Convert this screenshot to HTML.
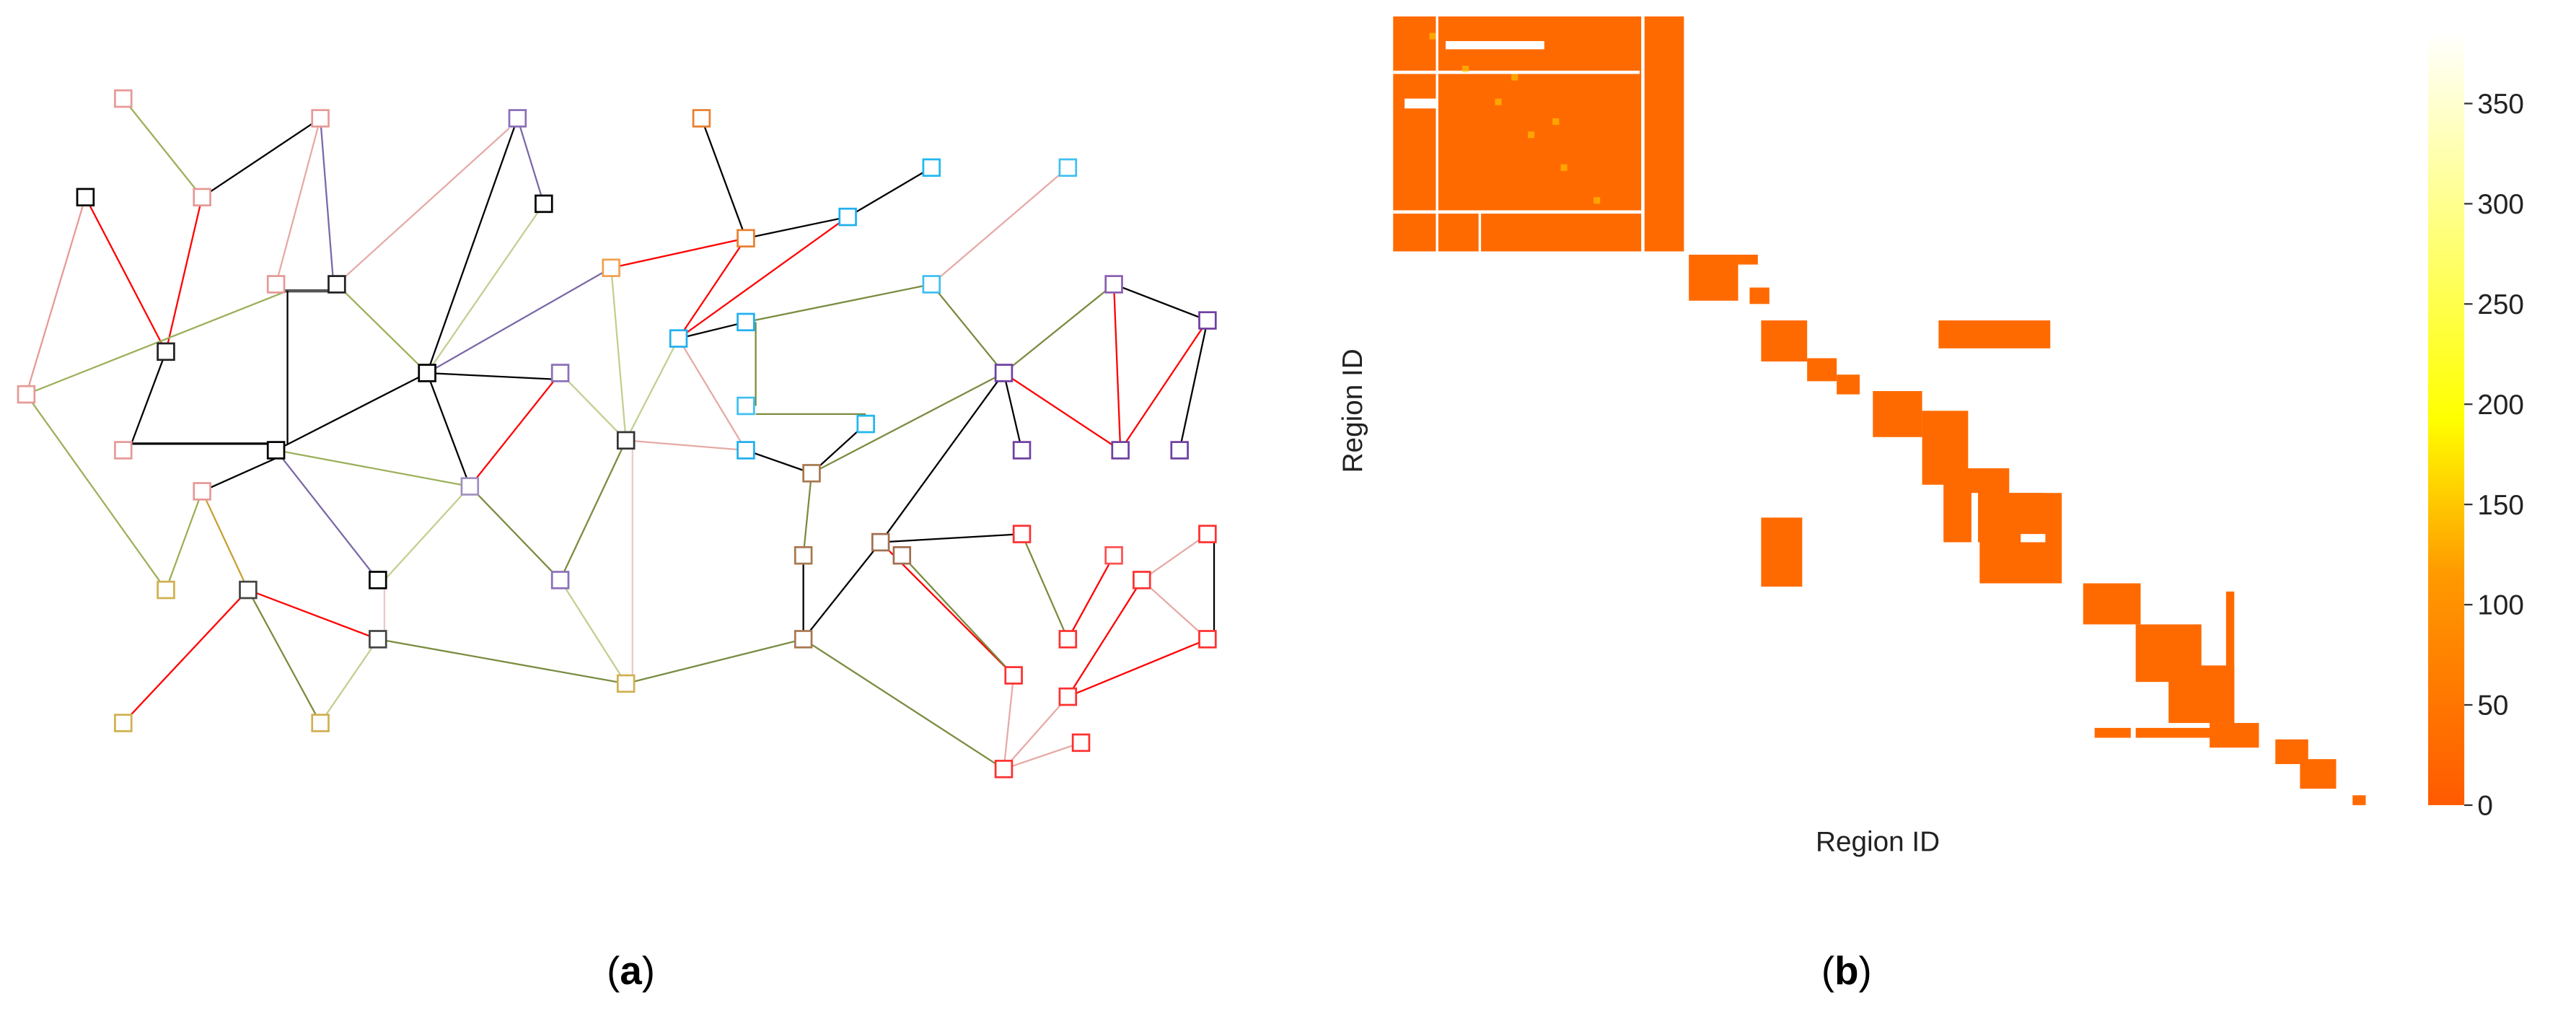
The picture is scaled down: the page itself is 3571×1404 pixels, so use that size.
<!DOCTYPE html>
<html><head><meta charset="utf-8"><style>
html,body{margin:0;padding:0;background:#fff}
svg{display:block}
text{font-family:"Liberation Sans",sans-serif}
</style></head><body>
<svg width="3571" height="1404" viewBox="0 0 1568 616.5" preserveAspectRatio="none" xmlns="http://www.w3.org/2000/svg">
<defs>
<linearGradient id="cb" x1="0" y1="1" x2="0" y2="0">
<stop offset="0" stop-color="#ff5a00"/>
<stop offset="0.3" stop-color="#ff9a00"/>
<stop offset="0.5" stop-color="#ffff00"/>
<stop offset="0.75" stop-color="#ffff80"/>
<stop offset="1" stop-color="#ffffff"/>
</linearGradient>
</defs>
<g fill="none" stroke-width="1">
<!-- edges -->
<line x1="75" y1="60" x2="123" y2="120" stroke="#9cb05a"/>
<line x1="123" y1="120" x2="195" y2="72" stroke="#000"/>
<line x1="195" y1="72" x2="168" y2="173" stroke="#e6aaa6"/>
<line x1="195" y1="72" x2="203" y2="173" stroke="#7b68a8"/>
<line x1="123" y1="120" x2="101" y2="214" stroke="#ff0000"/>
<line x1="52" y1="120" x2="101" y2="214" stroke="#ff0000"/>
<line x1="52" y1="120" x2="16" y2="240" stroke="#e69a96"/>
<line x1="16" y1="240" x2="175" y2="177" stroke="#9cb05a"/>
<line x1="170" y1="177" x2="205" y2="177" stroke="#555" stroke-width="2"/>
<line x1="175" y1="177" x2="175" y2="270" stroke="#000"/>
<line x1="101" y1="214" x2="80" y2="270" stroke="#000"/>
<line x1="80" y1="270" x2="168" y2="270" stroke="#000" stroke-width="1.4"/>
<line x1="16" y1="240" x2="101" y2="359" stroke="#9cb05a"/>
<line x1="101" y1="359" x2="123" y2="299" stroke="#9cb05a"/>
<line x1="123" y1="299" x2="170" y2="278" stroke="#000"/>
<line x1="123" y1="299" x2="151" y2="359" stroke="#c8a030"/>
<line x1="168" y1="274" x2="260" y2="227" stroke="#000"/>
<line x1="168" y1="274" x2="230" y2="353" stroke="#7b68a8"/>
<line x1="168" y1="274" x2="286" y2="296" stroke="#9cb05a"/>
<line x1="205" y1="173" x2="260" y2="227" stroke="#9cb05a"/>
<line x1="205" y1="173" x2="310" y2="78" stroke="#e6aaa6"/>
<line x1="315" y1="72" x2="260" y2="227" stroke="#000"/>
<line x1="315" y1="72" x2="331" y2="124" stroke="#7b68a8"/>
<line x1="331" y1="124" x2="260" y2="227" stroke="#c0d090"/>
<line x1="260" y1="227" x2="372" y2="163" stroke="#7b68a8"/>
<line x1="260" y1="227" x2="341" y2="231" stroke="#000"/>
<line x1="260" y1="227" x2="286" y2="296" stroke="#000"/>
<line x1="341" y1="227" x2="286" y2="296" stroke="#ff0000"/>
<line x1="341" y1="227" x2="381" y2="268" stroke="#c0d090"/>
<line x1="372" y1="163" x2="381" y2="268" stroke="#c0d090"/>
<line x1="286" y1="296" x2="341" y2="353" stroke="#7a8c40"/>
<line x1="286" y1="296" x2="234" y2="353" stroke="#c0d090"/>
<line x1="341" y1="353" x2="381" y2="416" stroke="#c0d090"/>
<line x1="381" y1="268" x2="341" y2="353" stroke="#7a8c40"/>
<line x1="385" y1="268" x2="385" y2="416" stroke="#ecc8c8"/>
<line x1="381" y1="268" x2="454" y2="274" stroke="#e6aaa6"/>
<line x1="381" y1="268" x2="413" y2="206" stroke="#c0d090"/>
<line x1="413" y1="206" x2="454" y2="145" stroke="#ff0000"/>
<line x1="413" y1="206" x2="516" y2="132" stroke="#ff0000"/>
<line x1="454" y1="145" x2="372" y2="163" stroke="#ff0000"/>
<line x1="454" y1="145" x2="427" y2="72" stroke="#000"/>
<line x1="454" y1="145" x2="516" y2="132" stroke="#000"/>
<line x1="516" y1="132" x2="567" y2="102" stroke="#000"/>
<line x1="650" y1="102" x2="567" y2="173" stroke="#e6aaa6"/>
<line x1="413" y1="206" x2="454" y2="196" stroke="#000"/>
<line x1="413" y1="206" x2="454" y2="274" stroke="#e6aaa6"/>
<line x1="454" y1="196" x2="567" y2="173" stroke="#7a8c40"/>
<line x1="460" y1="196" x2="460" y2="247" stroke="#7a8c40"/>
<line x1="460" y1="252" x2="527" y2="252" stroke="#7a8c40"/>
<line x1="527" y1="258" x2="494" y2="288" stroke="#000"/>
<line x1="454" y1="274" x2="494" y2="288" stroke="#000"/>
<line x1="567" y1="173" x2="611" y2="227" stroke="#7a8c40"/>
<line x1="611" y1="227" x2="678" y2="173" stroke="#7a8c40"/>
<line x1="678" y1="173" x2="735" y2="195" stroke="#000"/>
<line x1="678" y1="173" x2="682" y2="274" stroke="#ff0000"/>
<line x1="735" y1="195" x2="682" y2="274" stroke="#ff0000"/>
<line x1="735" y1="195" x2="718" y2="274" stroke="#000"/>
<line x1="611" y1="227" x2="622" y2="274" stroke="#000"/>
<line x1="611" y1="227" x2="682" y2="274" stroke="#ff0000"/>
<line x1="611" y1="227" x2="494" y2="288" stroke="#7a8c40"/>
<line x1="611" y1="227" x2="536" y2="330" stroke="#000"/>
<line x1="536" y1="330" x2="489" y2="389" stroke="#000"/>
<line x1="494" y1="288" x2="489" y2="338" stroke="#7a8c40"/>
<line x1="489" y1="338" x2="489" y2="389" stroke="#000"/>
<line x1="536" y1="330" x2="622" y2="325" stroke="#000"/>
<line x1="536" y1="330" x2="617" y2="411" stroke="#ff0000"/>
<line x1="549" y1="338" x2="617" y2="411" stroke="#7a8c40"/>
<line x1="622" y1="325" x2="650" y2="389" stroke="#7a8c40"/>
<line x1="678" y1="338" x2="650" y2="389" stroke="#ff0000"/>
<line x1="739" y1="325" x2="739" y2="389" stroke="#000"/>
<line x1="735" y1="325" x2="695" y2="353" stroke="#e6aaa6"/>
<line x1="695" y1="353" x2="735" y2="389" stroke="#e6aaa6"/>
<line x1="695" y1="353" x2="650" y2="424" stroke="#ff0000"/>
<line x1="735" y1="389" x2="650" y2="424" stroke="#ff0000"/>
<line x1="650" y1="424" x2="611" y2="468" stroke="#e6aaa6"/>
<line x1="611" y1="468" x2="658" y2="452" stroke="#e6aaa6"/>
<line x1="617" y1="411" x2="611" y2="468" stroke="#e6aaa6"/>
<line x1="489" y1="389" x2="611" y2="468" stroke="#7a8c40"/>
<line x1="489" y1="389" x2="381" y2="416" stroke="#7a8c40"/>
<line x1="230" y1="389" x2="381" y2="416" stroke="#7a8c40"/>
<line x1="151" y1="359" x2="230" y2="389" stroke="#ff0000"/>
<line x1="151" y1="359" x2="75" y2="440" stroke="#ff0000"/>
<line x1="151" y1="359" x2="195" y2="440" stroke="#7a8c40"/>
<line x1="230" y1="389" x2="195" y2="440" stroke="#c0d090"/>
<line x1="234" y1="353" x2="234" y2="389" stroke="#ecc8c8"/>
</g>
<g fill="#fff" stroke-width="1.2">
<rect x="70" y="55" width="10" height="10" stroke="#e69a96"/>
<rect x="190" y="67" width="10" height="10" stroke="#e69a96"/>
<rect x="310" y="67" width="10" height="10" stroke="#8a70b8"/>
<rect x="422" y="67" width="10" height="10" stroke="#e88030"/>
<rect x="47" y="115" width="10" height="10" stroke="#000"/>
<rect x="118" y="115" width="10" height="10" stroke="#e69a96"/>
<rect x="326" y="119" width="10" height="10" stroke="#000"/>
<rect x="562" y="97" width="10" height="10" stroke="#20b8f0"/>
<rect x="645" y="97" width="10" height="10" stroke="#40c0f0"/>
<rect x="511" y="127" width="10" height="10" stroke="#20b0f0"/>
<rect x="449" y="140" width="10" height="10" stroke="#e88030"/>
<rect x="367" y="158" width="10" height="10" stroke="#f0a050"/>
<rect x="163" y="168" width="10" height="10" stroke="#e69a96"/>
<rect x="200" y="168" width="10" height="10" stroke="#222"/>
<rect x="562" y="168" width="10" height="10" stroke="#40c0f0"/>
<rect x="673" y="168" width="10" height="10" stroke="#8a60b0"/>
<rect x="730" y="190" width="10" height="10" stroke="#7040a0"/>
<rect x="11" y="235" width="10" height="10" stroke="#e69a96"/>
<rect x="96" y="209" width="10" height="10" stroke="#222"/>
<rect x="408" y="201" width="10" height="10" stroke="#20b0f0"/>
<rect x="449" y="191" width="10" height="10" stroke="#20b0f0"/>
<rect x="255" y="222" width="10" height="10" stroke="#000"/>
<rect x="336" y="222" width="10" height="10" stroke="#8a70b8"/>
<rect x="606" y="222" width="10" height="10" stroke="#7040a0"/>
<rect x="449" y="242" width="10" height="10" stroke="#40c0f0"/>
<rect x="522" y="253" width="10" height="10" stroke="#20b8f0"/>
<rect x="70" y="269" width="10" height="10" stroke="#e69a96"/>
<rect x="163" y="269" width="10" height="10" stroke="#000"/>
<rect x="376" y="263" width="10" height="10" stroke="#333"/>
<rect x="449" y="269" width="10" height="10" stroke="#20b0f0"/>
<rect x="617" y="269" width="10" height="10" stroke="#7040a0"/>
<rect x="677" y="269" width="10" height="10" stroke="#7040a0"/>
<rect x="713" y="269" width="10" height="10" stroke="#7040a0"/>
<rect x="489" y="283" width="10" height="10" stroke="#a87850"/>
<rect x="118" y="294" width="10" height="10" stroke="#e69a96"/>
<rect x="281" y="291" width="10" height="10" stroke="#a090c0"/>
<rect x="531" y="325" width="10" height="10" stroke="#a07050"/>
<rect x="544" y="333" width="10" height="10" stroke="#a07050"/>
<rect x="617" y="320" width="10" height="10" stroke="#ff3030"/>
<rect x="673" y="333" width="10" height="10" stroke="#ff5050"/>
<rect x="730" y="320" width="10" height="10" stroke="#ff3030"/>
<rect x="484" y="333" width="10" height="10" stroke="#a87850"/>
<rect x="96" y="354" width="10" height="10" stroke="#d0b050"/>
<rect x="146" y="354" width="10" height="10" stroke="#444"/>
<rect x="225" y="348" width="10" height="10" stroke="#000"/>
<rect x="336" y="348" width="10" height="10" stroke="#8a70b8"/>
<rect x="690" y="348" width="10" height="10" stroke="#ff3030"/>
<rect x="225" y="384" width="10" height="10" stroke="#444"/>
<rect x="484" y="384" width="10" height="10" stroke="#a87850"/>
<rect x="645" y="384" width="10" height="10" stroke="#ff3030"/>
<rect x="730" y="384" width="10" height="10" stroke="#ff3030"/>
<rect x="376" y="411" width="10" height="10" stroke="#d0b050"/>
<rect x="612" y="406" width="10" height="10" stroke="#ff3030"/>
<rect x="645" y="419" width="10" height="10" stroke="#ff3030"/>
<rect x="70" y="435" width="10" height="10" stroke="#d0b050"/>
<rect x="190" y="435" width="10" height="10" stroke="#d0b050"/>
<rect x="653" y="447" width="10" height="10" stroke="#ff3030"/>
<rect x="606" y="463" width="10" height="10" stroke="#ff3030"/>
</g>
<!-- heatmap -->
<g fill="#ff6a00">
<rect x="848" y="10" width="177" height="143"/>
<rect x="1028" y="155" width="30" height="28"/>
<rect x="1058" y="155" width="12" height="6"/>
<rect x="1065" y="175" width="12" height="10"/>
<rect x="1072" y="195" width="28" height="25"/>
<rect x="1100" y="218" width="18" height="14"/>
<rect x="1118" y="228" width="14" height="12"/>
<rect x="1180" y="195" width="68" height="17"/>
<rect x="1140" y="238" width="30" height="28"/>
<rect x="1170" y="250" width="28" height="45"/>
<rect x="1183" y="285" width="40" height="45"/>
<rect x="1205" y="300" width="50" height="55"/>
<rect x="1223" y="300" width="20" height="20"/>
<rect x="1072" y="315" width="25" height="42"/>
<rect x="1268" y="355" width="35" height="25"/>
<rect x="1300" y="380" width="40" height="35"/>
<rect x="1320" y="405" width="40" height="35"/>
<rect x="1275" y="373" width="18" height="5"/>
<rect x="1275" y="443" width="22" height="6"/>
<rect x="1300" y="443" width="60" height="6"/>
<rect x="1355" y="360" width="5" height="85"/>
<rect x="1345" y="440" width="30" height="15"/>
<rect x="1385" y="450" width="20" height="15"/>
<rect x="1400" y="462" width="22" height="18"/>
<rect x="1432" y="484" width="8" height="6"/>
</g>
<g fill="#fff">
<rect x="999" y="10" width="2" height="143"/>
<rect x="848" y="128" width="153" height="2"/>
<rect x="848" y="43" width="150" height="2"/>
<rect x="874" y="10" width="1.5" height="143"/>
<rect x="900" y="130" width="1.5" height="23"/>
<rect x="855" y="60" width="20" height="6"/>
<rect x="880" y="25" width="60" height="5"/>
<rect x="1200" y="300" width="4" height="55"/>
<rect x="1230" y="325" width="15" height="5"/>
</g>
<g fill="#ffcc00" opacity="0.6">
<rect x="870" y="20" width="4" height="4"/><rect x="890" y="40" width="4" height="4"/>
<rect x="910" y="60" width="4" height="4"/><rect x="930" y="80" width="4" height="4"/>
<rect x="950" y="100" width="4" height="4"/><rect x="970" y="120" width="4" height="4"/>
<rect x="920" y="45" width="4" height="4"/><rect x="945" y="72" width="4" height="4"/>
</g>
<rect x="1478" y="20" width="22" height="470" fill="url(#cb)"/>
<g stroke="#333" stroke-width="1">
<line x1="1500" y1="490" x2="1505" y2="490"/><line x1="1500" y1="429" x2="1505" y2="429"/>
<line x1="1500" y1="368" x2="1505" y2="368"/><line x1="1500" y1="307" x2="1505" y2="307"/>
<line x1="1500" y1="246" x2="1505" y2="246"/><line x1="1500" y1="185" x2="1505" y2="185"/>
<line x1="1500" y1="124" x2="1505" y2="124"/><line x1="1500" y1="63" x2="1505" y2="63"/>
</g>
<g font-size="17" fill="#222">
<text x="1508" y="496">0</text><text x="1508" y="435">50</text>
<text x="1508" y="374">100</text><text x="1508" y="313">150</text>
<text x="1508" y="252">200</text><text x="1508" y="191">250</text>
<text x="1508" y="130">300</text><text x="1508" y="69">350</text>
<text x="1143" y="518" text-anchor="middle">Region ID</text>
<text transform="translate(829,250) rotate(-90)" text-anchor="middle">Region ID</text>
</g>
<g font-size="24" fill="#000" font-family="Liberation Serif">
<text x="384" y="599" text-anchor="middle" font-family="Liberation Serif">(<tspan font-weight="bold">a</tspan>)</text>
<text x="1124" y="599" text-anchor="middle" font-family="Liberation Serif">(<tspan font-weight="bold">b</tspan>)</text>
</g>
</svg>
</body></html>
